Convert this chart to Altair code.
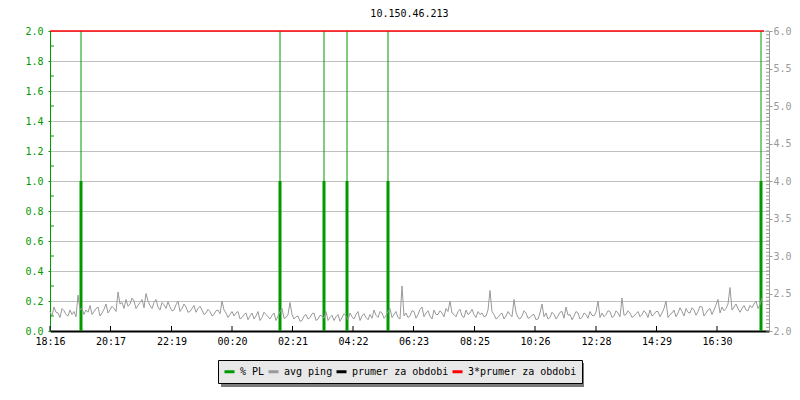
import altair as alt
import pandas as pd

TITLE = "10.150.46.213"
GREEN = "#009900"
GRAY = "#999999"
RED = "#ff0000"
BLACK = "#000000"
MONO = "DejaVu Sans Mono"

# x axis: minutes since 18:16
x_max = 1438
tick_minutes = [0, 121, 243, 364, 485, 606, 727, 849, 970, 1092, 1213, 1334]
tick_labels = ["18:16", "20:17", "22:19", "00:20", "02:21", "04:22",
               "06:23", "08:25", "10:26", "12:28", "14:29", "16:30"]

# % PL events (minutes) and values
pl_minutes = [62, 460, 548, 594, 676, 1422]
pl_values = [1.0, 1.0, 1.0, 1.0, 1.0, 1.0]
pl_marker_top = [2.0, 2.0, 2.0, 2.0, 2.0, 2.0]

# avg ping (ms): samples at minutes 0, 8, 16, ... and the samples in between (4, 12, ...)
ping_step = 4
ping_ms = [
    2.26, 2.32, 2.24, 2.30, 2.22, 2.28, 2.26, 2.48, 2.30, 2.28,
    2.34, 2.26, 2.32, 2.24, 2.36, 2.28, 2.30, 2.52, 2.38, 2.42,
    2.36, 2.40, 2.34, 2.42, 2.50, 2.34, 2.38, 2.32, 2.38, 2.30,
    2.32, 2.28, 2.40, 2.30, 2.32, 2.26, 2.34, 2.30, 2.28, 2.24,
    2.26, 2.22, 2.28, 2.40, 2.24, 2.22, 2.20, 2.26, 2.18, 2.24,
    2.20, 2.16, 2.26, 2.18, 2.22, 2.16, 2.24, 2.20, 2.30, 2.18,
    2.38, 2.16, 2.20, 2.14, 2.22, 2.18, 2.24, 2.16, 2.20, 2.26,
    2.18, 2.14, 2.22, 2.18, 2.20, 2.24, 2.16, 2.26, 2.20, 2.18,
    2.22, 2.28, 2.18, 2.24, 2.20, 2.30, 2.22, 2.18, 2.60, 2.24,
    2.20, 2.26, 2.22, 2.32, 2.24, 2.20, 2.28, 2.22, 2.24, 2.30,
    2.40, 2.22, 2.26, 2.20, 2.28, 2.24, 2.22, 2.26, 2.24, 2.20,
    2.54, 2.22, 2.18, 2.24, 2.20, 2.22, 2.42, 2.18, 2.20, 2.24,
    2.18, 2.22, 2.16, 2.36, 2.24, 2.18, 2.22, 2.20, 2.26, 2.32,
    2.22, 2.20, 2.24, 2.18, 2.22, 2.26, 2.20, 2.40, 2.24, 2.22,
    2.26, 2.20, 2.24, 2.44, 2.22, 2.24, 2.20, 2.26, 2.22, 2.24,
    2.28, 2.22, 2.26, 2.24, 2.40, 2.22, 2.28, 2.24, 2.26, 2.30,
    2.24, 2.28, 2.26, 2.32, 2.24, 2.30, 2.28, 2.42, 2.32, 2.30,
    2.58, 2.32, 2.30, 2.30, 2.28, 2.34, 2.36, 2.30, 2.44,
]
ping_ms_mid = [
    2.20, 2.25, 2.18, 2.27, 2.20, 2.22, 2.19, 2.28, 2.22, 2.25,
    2.22, 2.30, 2.20, 2.29, 2.24, 2.33, 2.26, 2.36, 2.30, 2.33,
    2.44, 2.30, 2.38, 2.31, 2.40, 2.30, 2.42, 2.28, 2.35, 2.39,
    2.27, 2.35, 2.26, 2.36, 2.25, 2.30, 2.25, 2.33, 2.22, 2.29,
    2.20, 2.27, 2.23, 2.28, 2.18, 2.26, 2.24, 2.16, 2.22, 2.15,
    2.24, 2.20, 2.14, 2.25, 2.19, 2.21, 2.14, 2.26, 2.17, 2.22,
    2.22, 2.19, 2.13, 2.20, 2.16, 2.23, 2.14, 2.21, 2.17, 2.14,
    2.21, 2.19, 2.13, 2.23, 2.15, 2.19, 2.22, 2.14, 2.23, 2.15,
    2.17, 2.21, 2.26, 2.17, 2.26, 2.18, 2.26, 2.16, 2.20, 2.18,
    2.27, 2.17, 2.29, 2.19, 2.27, 2.16, 2.22, 2.27, 2.19, 2.26,
    2.24, 2.19, 2.29, 2.18, 2.22, 2.29, 2.18, 2.22, 2.19, 2.28,
    2.26, 2.16, 2.22, 2.16, 2.26, 2.19, 2.25, 2.16, 2.27, 2.17,
    2.21, 2.15, 2.24, 2.19, 2.16, 2.25, 2.16, 2.25, 2.17, 2.21,
    2.15, 2.26, 2.16, 2.24, 2.17, 2.21, 2.25, 2.18, 2.19, 2.27,
    2.18, 2.27, 2.19, 2.21, 2.27, 2.18, 2.23, 2.19, 2.27, 2.18,
    2.20, 2.26, 2.19, 2.30, 2.18, 2.24, 2.19, 2.31, 2.20, 2.25,
    2.31, 2.21, 2.33, 2.20, 2.28, 2.22, 2.35, 2.24, 2.27, 2.36,
    2.28, 2.36, 2.25, 2.34, 2.27, 2.31, 2.40, 2.35,
]
ping_end = 1428
prumer3_value = 6.0

series_names = ["% PL", "avg ping", "prumer za obdobi", "3*prumer za obdobi"]
series_colors = [GREEN, GRAY, BLACK, RED]

left_labels = [round(v * 0.2, 1) for v in range(11)]
left_minor = [round(0.1 + 0.2 * i, 1) for i in range(10)]
right_labels = [round(2.0 + 0.5 * i, 1) for i in range(9)]
right_minor = [round(2.0 + 0.05 * i, 2) for i in range(81)]

W, H = 719, 300

# build the ping table by interleaving the two sample lists
ping_vals = []
for i, v in enumerate(ping_ms):
    ping_vals.append(v)
    if i < len(ping_ms_mid):
        ping_vals.append(ping_ms_mid[i])

pl_df = pd.DataFrame({"t": pl_minutes, "pl": pl_values, "top": pl_marker_top,
                      "base": [0.0] * len(pl_minutes)})
ping_df = pd.DataFrame({"t": [i * ping_step for i in range(len(ping_vals))],
                        "ms": ping_vals, "series": ["avg ping"] * len(ping_vals)})
red_df = pd.DataFrame({"t": [0], "t1": [ping_end], "v": [prumer3_value]})
xt_df = pd.DataFrame({"t": tick_minutes})
lm_df = pd.DataFrame({"v": left_minor})
rm_df = pd.DataFrame({"v": right_minor})

xscale = alt.Scale(domain=[0, x_max], nice=False, zero=False)
lscale = alt.Scale(domain=[0, 2], nice=False, zero=False)
rscale = alt.Scale(domain=[2, 6], nice=False, zero=False)

label_expr = ("[" + ",".join("'%s'" % s for s in tick_labels) + "][indexof(["
              + ",".join(str(m) for m in tick_minutes) + "], datum.value)]")

x_axis = alt.Axis(values=tick_minutes, labelExpr=label_expr, tickSize=0,
                  domainColor=BLACK, domainWidth=2, labelFont=MONO, labelFontSize=10,
                  labelColor=BLACK, labelPadding=5, grid=False, title=None,
                  labelFlush=False, labelOverlap=False)
left_axis = alt.Axis(orient="left", values=left_labels, format=".1f", labelColor=GREEN,
                     labelFont=MONO, labelFontSize=10, domainColor=GREEN, tickColor=GREEN,
                     tickSize=2, labelPadding=5, grid=True, gridColor="#c0c0c0",
                     title=None)
right_axis = alt.Axis(orient="right", values=right_labels, format=".1f", labelColor=GRAY,
                      labelFont=MONO, labelFontSize=10, domainColor=GRAY, tickColor=GRAY,
                      tickSize=3, labelPadding=1, grid=False, title=None)

X = alt.X("t:Q", scale=xscale, axis=x_axis)

pl_thin = alt.Chart(pl_df).mark_rule(color=GREEN, strokeWidth=1).encode(
    x=X, y=alt.Y("base:Q", scale=lscale, axis=left_axis), y2="top:Q",
)
pl_thick = alt.Chart(pl_df).mark_rule(color=GREEN, strokeWidth=3).encode(
    x=X, y=alt.Y("base:Q", scale=lscale, axis=left_axis), y2="pl:Q",
)
left_ticks = alt.Chart(lm_df).mark_rule(color=GREEN, strokeWidth=1).encode(
    y=alt.Y("v:Q", scale=lscale, axis=left_axis),
    x=alt.value(0), x2=alt.value(4),
)
x_ticks = alt.Chart(xt_df).mark_rule(color=BLACK, strokeWidth=1).encode(
    x=X, y=alt.value(H - 5), y2=alt.value(H),
)
shadow = alt.Chart(pd.DataFrame({"a": [0]})).mark_rect(color="#7a7a7a").encode(
    x=alt.value(171), x2=alt.value(534), y=alt.value(332), y2=alt.value(356),
)
left_layer = alt.layer(pl_thin, pl_thick, left_ticks, x_ticks, shadow)

ping_line = alt.Chart(ping_df).mark_line(strokeWidth=1).encode(
    x=X,
    y=alt.Y("ms:Q", scale=rscale, axis=right_axis),
    color=alt.Color("series:N", scale=alt.Scale(domain=series_names, range=series_colors),
                    legend=alt.Legend(title=None, orient="none", legendX=168, legendY=329,
                                      direction="horizontal", symbolType="stroke",
                                      symbolSize=100, symbolStrokeWidth=3,
                                      labelFont=MONO, labelFontSize=10, labelColor=BLACK,
                                      labelOffset=4, columnPadding=-3, padding=5,
                                      fillColor="#e8e8e8", strokeColor=BLACK)),
)
red_line = alt.Chart(red_df).mark_rule(color=RED, strokeWidth=1.5).encode(
    x=X, x2="t1:Q",
    y=alt.Y("v:Q", scale=rscale, axis=right_axis),
)
right_ticks = alt.Chart(rm_df).mark_rule(color=GRAY, strokeWidth=1).encode(
    y=alt.Y("v:Q", scale=rscale, axis=right_axis),
    x=alt.value(W - 3), x2=alt.value(W),
)
right_layer = alt.layer(ping_line, right_ticks, red_line)

chart = alt.layer(left_layer, right_layer).resolve_scale(y="independent").properties(
    width=W, height=H,
    padding={"left": 42, "top": 23, "right": 23, "bottom": 56},
    autosize=alt.AutoSizeParams(type="none"),
    title=alt.TitleParams(TITLE, font=MONO, fontSize=10, fontWeight="normal",
                          color=BLACK, anchor="middle", offset=7, frame="group"),
).configure_view(strokeWidth=0)

chart.save("out.html", embed_options={"renderer": "svg", "actions": False})
